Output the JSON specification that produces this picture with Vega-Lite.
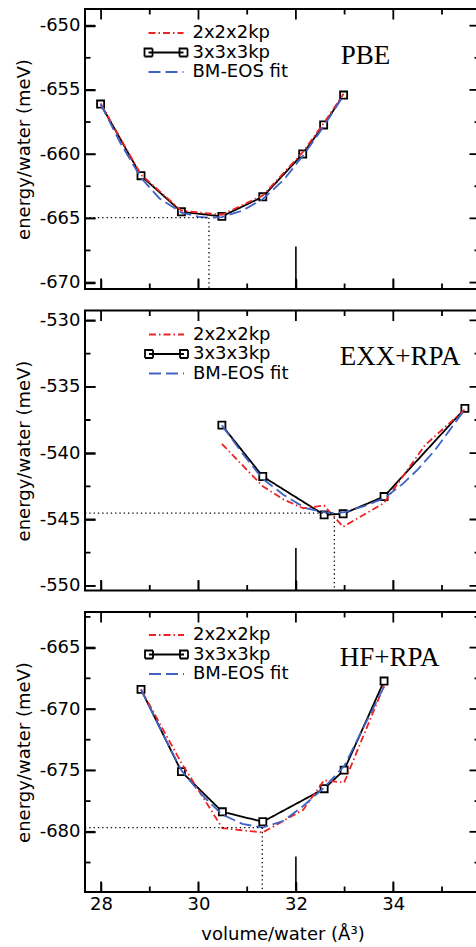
{
  "$schema": "https://vega.github.io/schema/vega-lite/v6.json",
  "padding": {"left": 14, "top": 8, "right": 0, "bottom": 0},
  "bounds": "flush",
  "spacing": 21.5,
  "config": {
    "font": "DejaVu Sans",
    "view": {"stroke": "black", "strokeWidth": 2},
    "axis": {"zindex": 2, "domain": false, "grid": false, "ticks": true, "tickColor": "black", "tickWidth": 1.5, "labelFont": "DejaVu Sans", "labelFontSize": 18, "labelColor": "black", "labelOverlap": false, "labelFlush": false, "titleFont": "DejaVu Sans", "titleFontSize": 18, "titleFontWeight": "normal", "titleColor": "black"},
    "legend": {"padding": 0, "labelFont": "DejaVu Sans", "labelFontSize": 18, "labelColor": "black", "labelOffset": 30, "symbolSize": 100, "symbolStrokeWidth": 1.8, "rowPadding": 1.5},
    "tick": {"thickness": 1.8, "opacity": 1, "color": "black"}
  },
  "datasets": {
    "pts": [
      {"panel": 1, "series": "3x3x3kp", "vol": 27.99, "energy": -656.1},
      {"panel": 1, "series": "3x3x3kp", "vol": 28.82, "energy": -661.68},
      {"panel": 1, "series": "3x3x3kp", "vol": 29.65, "energy": -664.49},
      {"panel": 1, "series": "3x3x3kp", "vol": 30.48, "energy": -664.85},
      {"panel": 1, "series": "3x3x3kp", "vol": 31.32, "energy": -663.32},
      {"panel": 1, "series": "3x3x3kp", "vol": 32.14, "energy": -659.99},
      {"panel": 1, "series": "3x3x3kp", "vol": 32.57, "energy": -657.73},
      {"panel": 1, "series": "3x3x3kp", "vol": 32.98, "energy": -655.4},
      {"panel": 1, "series": "2x2x2kp", "vol": 27.99, "energy": -656.05},
      {"panel": 1, "series": "2x2x2kp", "vol": 28.82, "energy": -661.6},
      {"panel": 1, "series": "2x2x2kp", "vol": 29.65, "energy": -664.4},
      {"panel": 1, "series": "2x2x2kp", "vol": 30.48, "energy": -664.72},
      {"panel": 1, "series": "2x2x2kp", "vol": 31.32, "energy": -663.22},
      {"panel": 1, "series": "2x2x2kp", "vol": 32.14, "energy": -659.85},
      {"panel": 1, "series": "2x2x2kp", "vol": 32.57, "energy": -657.6},
      {"panel": 1, "series": "2x2x2kp", "vol": 32.98, "energy": -655.3},
      {"panel": 1, "series": "BM-EOS fit", "vol": 27.99, "energy": -656.1},
      {"panel": 1, "series": "BM-EOS fit", "vol": 28.4, "energy": -659.15},
      {"panel": 1, "series": "BM-EOS fit", "vol": 28.82, "energy": -661.85},
      {"panel": 1, "series": "BM-EOS fit", "vol": 29.2, "energy": -663.45},
      {"panel": 1, "series": "BM-EOS fit", "vol": 29.65, "energy": -664.55},
      {"panel": 1, "series": "BM-EOS fit", "vol": 30.0, "energy": -664.88},
      {"panel": 1, "series": "BM-EOS fit", "vol": 30.22, "energy": -664.95},
      {"panel": 1, "series": "BM-EOS fit", "vol": 30.48, "energy": -664.9},
      {"panel": 1, "series": "BM-EOS fit", "vol": 30.9, "energy": -664.4},
      {"panel": 1, "series": "BM-EOS fit", "vol": 31.32, "energy": -663.5},
      {"panel": 1, "series": "BM-EOS fit", "vol": 31.75, "energy": -662.0},
      {"panel": 1, "series": "BM-EOS fit", "vol": 32.14, "energy": -660.15},
      {"panel": 1, "series": "BM-EOS fit", "vol": 32.57, "energy": -657.85},
      {"panel": 1, "series": "BM-EOS fit", "vol": 32.98, "energy": -655.4},
      {"panel": 2, "series": "3x3x3kp", "vol": 30.48, "energy": -537.89},
      {"panel": 2, "series": "3x3x3kp", "vol": 31.32, "energy": -541.76},
      {"panel": 2, "series": "3x3x3kp", "vol": 32.58, "energy": -544.65},
      {"panel": 2, "series": "3x3x3kp", "vol": 32.97, "energy": -544.57},
      {"panel": 2, "series": "3x3x3kp", "vol": 33.81, "energy": -543.27},
      {"panel": 2, "series": "3x3x3kp", "vol": 35.47, "energy": -536.63},
      {"panel": 2, "series": "2x2x2kp", "vol": 30.48, "energy": -539.3},
      {"panel": 2, "series": "2x2x2kp", "vol": 31.32, "energy": -542.5},
      {"panel": 2, "series": "2x2x2kp", "vol": 31.75, "energy": -543.5},
      {"panel": 2, "series": "2x2x2kp", "vol": 32.15, "energy": -544.15},
      {"panel": 2, "series": "2x2x2kp", "vol": 32.58, "energy": -543.95},
      {"panel": 2, "series": "2x2x2kp", "vol": 32.97, "energy": -545.55},
      {"panel": 2, "series": "2x2x2kp", "vol": 33.81, "energy": -543.75},
      {"panel": 2, "series": "2x2x2kp", "vol": 34.65, "energy": -539.4},
      {"panel": 2, "series": "2x2x2kp", "vol": 35.47, "energy": -536.7},
      {"panel": 2, "series": "BM-EOS fit", "vol": 30.48, "energy": -537.9},
      {"panel": 2, "series": "BM-EOS fit", "vol": 30.9, "energy": -540.0},
      {"panel": 2, "series": "BM-EOS fit", "vol": 31.32, "energy": -541.95},
      {"panel": 2, "series": "BM-EOS fit", "vol": 31.75, "energy": -543.15},
      {"panel": 2, "series": "BM-EOS fit", "vol": 32.2, "energy": -544.15},
      {"panel": 2, "series": "BM-EOS fit", "vol": 32.58, "energy": -544.45},
      {"panel": 2, "series": "BM-EOS fit", "vol": 32.79, "energy": -544.52},
      {"panel": 2, "series": "BM-EOS fit", "vol": 33.0, "energy": -544.45},
      {"panel": 2, "series": "BM-EOS fit", "vol": 33.4, "energy": -544.0},
      {"panel": 2, "series": "BM-EOS fit", "vol": 33.81, "energy": -543.4},
      {"panel": 2, "series": "BM-EOS fit", "vol": 34.2, "energy": -542.3},
      {"panel": 2, "series": "BM-EOS fit", "vol": 34.51, "energy": -541.2},
      {"panel": 2, "series": "BM-EOS fit", "vol": 34.85, "energy": -539.8},
      {"panel": 2, "series": "BM-EOS fit", "vol": 35.15, "energy": -538.3},
      {"panel": 2, "series": "BM-EOS fit", "vol": 35.47, "energy": -536.7},
      {"panel": 3, "series": "3x3x3kp", "vol": 28.82, "energy": -668.4},
      {"panel": 3, "series": "3x3x3kp", "vol": 29.65, "energy": -675.1},
      {"panel": 3, "series": "3x3x3kp", "vol": 30.49, "energy": -678.37},
      {"panel": 3, "series": "3x3x3kp", "vol": 31.32, "energy": -679.18},
      {"panel": 3, "series": "3x3x3kp", "vol": 32.58, "energy": -676.49},
      {"panel": 3, "series": "3x3x3kp", "vol": 32.99, "energy": -674.98},
      {"panel": 3, "series": "3x3x3kp", "vol": 33.81, "energy": -667.72},
      {"panel": 3, "series": "2x2x2kp", "vol": 28.82, "energy": -668.4},
      {"panel": 3, "series": "2x2x2kp", "vol": 29.65, "energy": -674.4},
      {"panel": 3, "series": "2x2x2kp", "vol": 30.49, "energy": -679.7},
      {"panel": 3, "series": "2x2x2kp", "vol": 31.32, "energy": -680.05},
      {"panel": 3, "series": "2x2x2kp", "vol": 32.15, "energy": -678.2},
      {"panel": 3, "series": "2x2x2kp", "vol": 32.58, "energy": -675.8},
      {"panel": 3, "series": "2x2x2kp", "vol": 32.99, "energy": -676.0},
      {"panel": 3, "series": "2x2x2kp", "vol": 33.81, "energy": -668.1},
      {"panel": 3, "series": "BM-EOS fit", "vol": 28.82, "energy": -668.4},
      {"panel": 3, "series": "BM-EOS fit", "vol": 29.2, "energy": -671.5},
      {"panel": 3, "series": "BM-EOS fit", "vol": 29.65, "energy": -675.0},
      {"panel": 3, "series": "BM-EOS fit", "vol": 30.07, "energy": -677.0},
      {"panel": 3, "series": "BM-EOS fit", "vol": 30.49, "energy": -678.6},
      {"panel": 3, "series": "BM-EOS fit", "vol": 30.9, "energy": -679.35},
      {"panel": 3, "series": "BM-EOS fit", "vol": 31.31, "energy": -679.65},
      {"panel": 3, "series": "BM-EOS fit", "vol": 31.75, "energy": -679.1},
      {"panel": 3, "series": "BM-EOS fit", "vol": 32.15, "energy": -677.9},
      {"panel": 3, "series": "BM-EOS fit", "vol": 32.58, "energy": -676.4},
      {"panel": 3, "series": "BM-EOS fit", "vol": 33.0, "energy": -674.6},
      {"panel": 3, "series": "BM-EOS fit", "vol": 33.4, "energy": -671.4},
      {"panel": 3, "series": "BM-EOS fit", "vol": 33.81, "energy": -668.2}
    ],
    "guides": [
      {"panel": 1, "kind": "dot", "x": 27.67, "x2": 30.215, "y": -664.95, "y2": -664.95},
      {"panel": 1, "kind": "dot", "x": 30.215, "x2": 30.215, "y": -664.95, "y2": -670.5},
      {"panel": 1, "kind": "stick", "x": 32.0, "x2": 32.0, "y": -670.5, "y2": -667.2},
      {"panel": 2, "kind": "dot", "x": 27.67, "x2": 32.79, "y": -544.52, "y2": -544.52},
      {"panel": 2, "kind": "dot", "x": 32.79, "x2": 32.79, "y": -544.52, "y2": -550.35},
      {"panel": 2, "kind": "stick", "x": 32.0, "x2": 32.0, "y": -550.35, "y2": -547.15},
      {"panel": 3, "kind": "dot", "x": 27.67, "x2": 31.31, "y": -679.65, "y2": -679.65},
      {"panel": 3, "kind": "dot", "x": 31.31, "x2": 31.31, "y": -679.65, "y2": -684.9},
      {"panel": 3, "kind": "stick", "x": 32.0, "x2": 32.0, "y": -684.9, "y2": -682.0}
    ],
    "labels": [
      {"panel": 1, "label": "PBE", "vol": 32.92, "energy": -652.98},
      {"panel": 2, "label": "EXX+RPA", "vol": 32.9, "energy": -533.34},
      {"panel": 3, "label": "HF+RPA", "vol": 32.9, "energy": -666.5}
    ],
    "yticks": [
      {"panel": 1, "pos": -670, "kind": "major"}, {"panel": 1, "pos": -667.5, "kind": "minor"},
      {"panel": 1, "pos": -665, "kind": "major"}, {"panel": 1, "pos": -662.5, "kind": "minor"},
      {"panel": 1, "pos": -660, "kind": "major"}, {"panel": 1, "pos": -657.5, "kind": "minor"},
      {"panel": 1, "pos": -655, "kind": "major"}, {"panel": 1, "pos": -652.5, "kind": "minor"},
      {"panel": 1, "pos": -650, "kind": "major"},
      {"panel": 2, "pos": -550, "kind": "major"}, {"panel": 2, "pos": -547.5, "kind": "minor"},
      {"panel": 2, "pos": -545, "kind": "major"}, {"panel": 2, "pos": -542.5, "kind": "minor"},
      {"panel": 2, "pos": -540, "kind": "major"}, {"panel": 2, "pos": -537.5, "kind": "minor"},
      {"panel": 2, "pos": -535, "kind": "major"}, {"panel": 2, "pos": -532.5, "kind": "minor"},
      {"panel": 2, "pos": -530, "kind": "major"},
      {"panel": 3, "pos": -682.5, "kind": "minor"}, {"panel": 3, "pos": -680, "kind": "major"},
      {"panel": 3, "pos": -677.5, "kind": "minor"}, {"panel": 3, "pos": -675, "kind": "major"},
      {"panel": 3, "pos": -672.5, "kind": "minor"}, {"panel": 3, "pos": -670, "kind": "major"},
      {"panel": 3, "pos": -667.5, "kind": "minor"}, {"panel": 3, "pos": -665, "kind": "major"},
      {"panel": 3, "pos": -662.5, "kind": "minor"}
    ],
    "xticks": [
      {"pos": 28, "kind": "major"}, {"pos": 29, "kind": "minor"}, {"pos": 30, "kind": "major"}, {"pos": 31, "kind": "minor"},
      {"pos": 32, "kind": "major"}, {"pos": 33, "kind": "minor"}, {"pos": 34, "kind": "major"}, {"pos": 35, "kind": "minor"}
    ]
  },
  "resolve": {
    "scale": {"x": "independent", "y": "independent", "color": "independent", "strokeDash": "independent"},
    "legend": {"color": "independent", "strokeDash": "independent"}
  },
  "vconcat": [
    {
      "width": 395, "height": 280,
      "resolve": {"axis": {"x": "independent", "y": "independent"}},
      "layer": [
        {
          "data": {"name": "pts"},
          "transform": [{"filter": "datum.panel === 1 && datum.series === '3x3x3kp'"}],
          "mark": {"type": "line", "strokeWidth": 1.8},
          "encoding": {
            "x": {"field": "vol", "type": "quantitative", "scale": {"domain": [27.67, 35.78], "nice": false, "zero": false},
                  "axis": {"orient": "bottom", "values": [28, 30, 32, 34], "tickSize": 10, "offset": -10, "labels": false, "title": null}},
            "y": {"field": "energy", "type": "quantitative", "scale": {"domain": [-670.5, -648.7], "nice": false, "zero": false},
                  "axis": {"orient": "left", "values": [-670, -665, -660, -655, -650], "tickSize": 10, "offset": -10, "labelPadding": 5, "labelExpr": "'-' + abs(datum.value)", "title": "energy/water (meV)", "titlePadding": 6}},
            "color": {"field": "series", "type": "nominal", "scale": {"domain": ["2x2x2kp", "3x3x3kp", "BM-EOS fit"], "range": ["#ee2222", "#000000", "#4062c4"]},
                      "legend": {"orient": "none", "legendX": 59.5, "legendY": 15, "title": null,
                                 "encode": {"symbols": {"update": {"shape": {"signal": "datum.value === '3x3x3kp' ? 'M-1,0L6,0M-1.8,-0.8L-0.2,-0.8L-0.2,0.8L-1.8,0.8ZM5.2,-0.8L6.8,-0.8L6.8,0.8L5.2,0.8Z' : 'M-1,0L6,0'"}, "fill": {"value": "transparent"}}}}}},
            "strokeDash": {"field": "series", "type": "nominal", "scale": {"domain": ["2x2x2kp", "3x3x3kp", "BM-EOS fit"], "range": [[7, 3, 1.5, 3], [1, 0], [12, 5]]}}
          }
        },
        {
          "data": {"name": "pts"},
          "transform": [{"filter": "datum.panel === 1 && datum.series === '3x3x3kp'"}],
          "mark": {"type": "point", "shape": "square", "filled": true, "fill": "white", "stroke": "black", "strokeWidth": 1.8, "size": 50, "opacity": 1},
          "encoding": {
            "x": {"field": "vol", "type": "quantitative", "scale": {"domain": [27.67, 35.78], "nice": false, "zero": false}, "axis": null},
            "y": {"field": "energy", "type": "quantitative", "scale": {"domain": [-670.5, -648.7], "nice": false, "zero": false}, "axis": null}
          }
        },
        {
          "data": {"name": "pts"},
          "transform": [{"filter": "datum.panel === 1 && datum.series === '2x2x2kp'"}],
          "mark": {"type": "line", "strokeWidth": 1.8},
          "encoding": {
            "x": {"field": "vol", "type": "quantitative", "scale": {"domain": [27.67, 35.78], "nice": false, "zero": false}, "axis": null},
            "y": {"field": "energy", "type": "quantitative", "scale": {"domain": [-670.5, -648.7], "nice": false, "zero": false}, "axis": null},
            "color": {"field": "series", "type": "nominal", "scale": {"domain": ["2x2x2kp", "3x3x3kp", "BM-EOS fit"], "range": ["#ee2222", "#000000", "#4062c4"]}},
            "strokeDash": {"field": "series", "type": "nominal", "scale": {"domain": ["2x2x2kp", "3x3x3kp", "BM-EOS fit"], "range": [[7, 3, 1.5, 3], [1, 0], [12, 5]]}}
          }
        },
        {
          "data": {"name": "pts"},
          "transform": [{"filter": "datum.panel === 1 && datum.series === 'BM-EOS fit'"}],
          "mark": {"type": "line", "strokeWidth": 1.8},
          "encoding": {
            "x": {"field": "vol", "type": "quantitative", "scale": {"domain": [27.67, 35.78], "nice": false, "zero": false}, "axis": null},
            "y": {"field": "energy", "type": "quantitative", "scale": {"domain": [-670.5, -648.7], "nice": false, "zero": false}, "axis": null},
            "color": {"field": "series", "type": "nominal", "scale": {"domain": ["2x2x2kp", "3x3x3kp", "BM-EOS fit"], "range": ["#ee2222", "#000000", "#4062c4"]}},
            "strokeDash": {"field": "series", "type": "nominal", "scale": {"domain": ["2x2x2kp", "3x3x3kp", "BM-EOS fit"], "range": [[7, 3, 1.5, 3], [1, 0], [12, 5]]}}
          }
        },
        {
          "data": {"name": "guides"},
          "transform": [{"filter": "datum.panel === 1 && datum.kind === 'dot'"}],
          "mark": {"type": "rule", "color": "black", "strokeWidth": 1.3, "strokeDash": [1.3, 3]},
          "encoding": {
            "x": {"field": "x", "type": "quantitative", "scale": {"domain": [27.67, 35.78], "nice": false, "zero": false}, "axis": null},
            "x2": {"field": "x2"},
            "y": {"field": "y", "type": "quantitative", "scale": {"domain": [-670.5, -648.7], "nice": false, "zero": false}, "axis": null},
            "y2": {"field": "y2"}
          }
        },
        {
          "data": {"name": "guides"},
          "transform": [{"filter": "datum.panel === 1 && datum.kind === 'stick'"}],
          "mark": {"type": "rule", "color": "black", "strokeWidth": 1.6},
          "encoding": {
            "x": {"field": "x", "type": "quantitative", "scale": {"domain": [27.67, 35.78], "nice": false, "zero": false}, "axis": null},
            "x2": {"field": "x2"},
            "y": {"field": "y", "type": "quantitative", "scale": {"domain": [-670.5, -648.7], "nice": false, "zero": false}, "axis": null},
            "y2": {"field": "y2"}
          }
        },
        {
          "data": {"name": "labels"},
          "transform": [{"filter": "datum.panel === 1"}],
          "mark": {"type": "text", "font": "Liberation Serif", "fontSize": 27, "align": "left", "baseline": "alphabetic", "color": "black"},
          "encoding": {
            "x": {"field": "vol", "type": "quantitative", "scale": {"domain": [27.67, 35.78], "nice": false, "zero": false}, "axis": null},
            "y": {"field": "energy", "type": "quantitative", "scale": {"domain": [-670.5, -648.7], "nice": false, "zero": false}, "axis": null},
            "text": {"field": "label"}
          }
        },
        {
          "data": {"name": "yticks"},
          "transform": [{"filter": "datum.panel === 1"}],
          "mark": {"type": "tick", "orient": "horizontal", "clip": true},
          "encoding": {
            "x": {"datum": 27.67, "type": "quantitative", "scale": {"domain": [27.67, 35.78], "nice": false, "zero": false}, "axis": null},
            "y": {"field": "pos", "type": "quantitative", "scale": {"domain": [-670.5, -648.7], "nice": false, "zero": false}, "axis": null},
            "size": {"field": "kind", "type": "ordinal", "scale": {"domain": ["major", "minor"], "range": [21, 11]}, "legend": null}
          }
        },
        {
          "data": {"name": "yticks"},
          "transform": [{"filter": "datum.panel === 1"}],
          "mark": {"type": "tick", "orient": "horizontal", "clip": true},
          "encoding": {
            "x": {"datum": 35.78, "type": "quantitative", "scale": {"domain": [27.67, 35.78], "nice": false, "zero": false}, "axis": null},
            "y": {"field": "pos", "type": "quantitative", "scale": {"domain": [-670.5, -648.7], "nice": false, "zero": false}, "axis": null},
            "size": {"field": "kind", "type": "ordinal", "scale": {"domain": ["major", "minor"], "range": [21, 11]}, "legend": null}
          }
        },
        {
          "data": {"name": "xticks"},
          "mark": {"type": "tick", "orient": "vertical", "clip": true},
          "encoding": {
            "x": {"field": "pos", "type": "quantitative", "scale": {"domain": [27.67, 35.78], "nice": false, "zero": false}, "axis": null},
            "y": {"datum": -670.5, "type": "quantitative", "scale": {"domain": [-670.5, -648.7], "nice": false, "zero": false}, "axis": null},
            "size": {"field": "kind", "type": "ordinal", "scale": {"domain": ["major", "minor"], "range": [21, 11]}, "legend": null}
          }
        },
        {
          "data": {"name": "xticks"},
          "mark": {"type": "tick", "orient": "vertical", "clip": true},
          "encoding": {
            "x": {"field": "pos", "type": "quantitative", "scale": {"domain": [27.67, 35.78], "nice": false, "zero": false}, "axis": null},
            "y": {"datum": -648.7, "type": "quantitative", "scale": {"domain": [-670.5, -648.7], "nice": false, "zero": false}, "axis": null},
            "size": {"field": "kind", "type": "ordinal", "scale": {"domain": ["major", "minor"], "range": [21, 11]}, "legend": null}
          }
        }
      ]
    },
    {
      "width": 395, "height": 280,
      "resolve": {"axis": {"x": "independent", "y": "independent"}},
      "layer": [
        {
          "data": {"name": "pts"},
          "transform": [{"filter": "datum.panel === 2 && datum.series === '3x3x3kp'"}],
          "mark": {"type": "line", "strokeWidth": 1.8},
          "encoding": {
            "x": {"field": "vol", "type": "quantitative", "scale": {"domain": [27.67, 35.78], "nice": false, "zero": false},
                  "axis": {"orient": "bottom", "values": [28, 30, 32, 34], "tickSize": 10, "offset": -10, "labels": false, "title": null}},
            "y": {"field": "energy", "type": "quantitative", "scale": {"domain": [-550.35, -529.25], "nice": false, "zero": false},
                  "axis": {"orient": "left", "values": [-550, -545, -540, -535, -530], "tickSize": 10, "offset": -10, "labelPadding": 5, "labelExpr": "'-' + abs(datum.value)", "title": "energy/water (meV)", "titlePadding": 6}},
            "color": {"field": "series", "type": "nominal", "scale": {"domain": ["2x2x2kp", "3x3x3kp", "BM-EOS fit"], "range": ["#ee2222", "#000000", "#4062c4"]},
                      "legend": {"orient": "none", "legendX": 60, "legendY": 15, "title": null,
                                 "encode": {"symbols": {"update": {"shape": {"signal": "datum.value === '3x3x3kp' ? 'M-1,0L6,0M-1.8,-0.8L-0.2,-0.8L-0.2,0.8L-1.8,0.8ZM5.2,-0.8L6.8,-0.8L6.8,0.8L5.2,0.8Z' : 'M-1,0L6,0'"}, "fill": {"value": "transparent"}}}}}},
            "strokeDash": {"field": "series", "type": "nominal", "scale": {"domain": ["2x2x2kp", "3x3x3kp", "BM-EOS fit"], "range": [[7, 3, 1.5, 3], [1, 0], [12, 5]]}}
          }
        },
        {
          "data": {"name": "pts"},
          "transform": [{"filter": "datum.panel === 2 && datum.series === '3x3x3kp'"}],
          "mark": {"type": "point", "shape": "square", "filled": true, "fill": "white", "stroke": "black", "strokeWidth": 1.8, "size": 50, "opacity": 1},
          "encoding": {
            "x": {"field": "vol", "type": "quantitative", "scale": {"domain": [27.67, 35.78], "nice": false, "zero": false}, "axis": null},
            "y": {"field": "energy", "type": "quantitative", "scale": {"domain": [-550.35, -529.25], "nice": false, "zero": false}, "axis": null}
          }
        },
        {
          "data": {"name": "pts"},
          "transform": [{"filter": "datum.panel === 2 && datum.series === '2x2x2kp'"}],
          "mark": {"type": "line", "strokeWidth": 1.8},
          "encoding": {
            "x": {"field": "vol", "type": "quantitative", "scale": {"domain": [27.67, 35.78], "nice": false, "zero": false}, "axis": null},
            "y": {"field": "energy", "type": "quantitative", "scale": {"domain": [-550.35, -529.25], "nice": false, "zero": false}, "axis": null},
            "color": {"field": "series", "type": "nominal", "scale": {"domain": ["2x2x2kp", "3x3x3kp", "BM-EOS fit"], "range": ["#ee2222", "#000000", "#4062c4"]}},
            "strokeDash": {"field": "series", "type": "nominal", "scale": {"domain": ["2x2x2kp", "3x3x3kp", "BM-EOS fit"], "range": [[7, 3, 1.5, 3], [1, 0], [12, 5]]}}
          }
        },
        {
          "data": {"name": "pts"},
          "transform": [{"filter": "datum.panel === 2 && datum.series === 'BM-EOS fit'"}],
          "mark": {"type": "line", "strokeWidth": 1.8},
          "encoding": {
            "x": {"field": "vol", "type": "quantitative", "scale": {"domain": [27.67, 35.78], "nice": false, "zero": false}, "axis": null},
            "y": {"field": "energy", "type": "quantitative", "scale": {"domain": [-550.35, -529.25], "nice": false, "zero": false}, "axis": null},
            "color": {"field": "series", "type": "nominal", "scale": {"domain": ["2x2x2kp", "3x3x3kp", "BM-EOS fit"], "range": ["#ee2222", "#000000", "#4062c4"]}},
            "strokeDash": {"field": "series", "type": "nominal", "scale": {"domain": ["2x2x2kp", "3x3x3kp", "BM-EOS fit"], "range": [[7, 3, 1.5, 3], [1, 0], [12, 5]]}}
          }
        },
        {
          "data": {"name": "guides"},
          "transform": [{"filter": "datum.panel === 2 && datum.kind === 'dot'"}],
          "mark": {"type": "rule", "color": "black", "strokeWidth": 1.3, "strokeDash": [1.3, 3]},
          "encoding": {
            "x": {"field": "x", "type": "quantitative", "scale": {"domain": [27.67, 35.78], "nice": false, "zero": false}, "axis": null},
            "x2": {"field": "x2"},
            "y": {"field": "y", "type": "quantitative", "scale": {"domain": [-550.35, -529.25], "nice": false, "zero": false}, "axis": null},
            "y2": {"field": "y2"}
          }
        },
        {
          "data": {"name": "guides"},
          "transform": [{"filter": "datum.panel === 2 && datum.kind === 'stick'"}],
          "mark": {"type": "rule", "color": "black", "strokeWidth": 1.6},
          "encoding": {
            "x": {"field": "x", "type": "quantitative", "scale": {"domain": [27.67, 35.78], "nice": false, "zero": false}, "axis": null},
            "x2": {"field": "x2"},
            "y": {"field": "y", "type": "quantitative", "scale": {"domain": [-550.35, -529.25], "nice": false, "zero": false}, "axis": null},
            "y2": {"field": "y2"}
          }
        },
        {
          "data": {"name": "labels"},
          "transform": [{"filter": "datum.panel === 2"}],
          "mark": {"type": "text", "font": "Liberation Serif", "fontSize": 27, "align": "left", "baseline": "alphabetic", "color": "black"},
          "encoding": {
            "x": {"field": "vol", "type": "quantitative", "scale": {"domain": [27.67, 35.78], "nice": false, "zero": false}, "axis": null},
            "y": {"field": "energy", "type": "quantitative", "scale": {"domain": [-550.35, -529.25], "nice": false, "zero": false}, "axis": null},
            "text": {"field": "label"}
          }
        },
        {
          "data": {"name": "yticks"},
          "transform": [{"filter": "datum.panel === 2"}],
          "mark": {"type": "tick", "orient": "horizontal", "clip": true},
          "encoding": {
            "x": {"datum": 27.67, "type": "quantitative", "scale": {"domain": [27.67, 35.78], "nice": false, "zero": false}, "axis": null},
            "y": {"field": "pos", "type": "quantitative", "scale": {"domain": [-550.35, -529.25], "nice": false, "zero": false}, "axis": null},
            "size": {"field": "kind", "type": "ordinal", "scale": {"domain": ["major", "minor"], "range": [21, 11]}, "legend": null}
          }
        },
        {
          "data": {"name": "yticks"},
          "transform": [{"filter": "datum.panel === 2"}],
          "mark": {"type": "tick", "orient": "horizontal", "clip": true},
          "encoding": {
            "x": {"datum": 35.78, "type": "quantitative", "scale": {"domain": [27.67, 35.78], "nice": false, "zero": false}, "axis": null},
            "y": {"field": "pos", "type": "quantitative", "scale": {"domain": [-550.35, -529.25], "nice": false, "zero": false}, "axis": null},
            "size": {"field": "kind", "type": "ordinal", "scale": {"domain": ["major", "minor"], "range": [21, 11]}, "legend": null}
          }
        },
        {
          "data": {"name": "xticks"},
          "mark": {"type": "tick", "orient": "vertical", "clip": true},
          "encoding": {
            "x": {"field": "pos", "type": "quantitative", "scale": {"domain": [27.67, 35.78], "nice": false, "zero": false}, "axis": null},
            "y": {"datum": -550.35, "type": "quantitative", "scale": {"domain": [-550.35, -529.25], "nice": false, "zero": false}, "axis": null},
            "size": {"field": "kind", "type": "ordinal", "scale": {"domain": ["major", "minor"], "range": [21, 11]}, "legend": null}
          }
        },
        {
          "data": {"name": "xticks"},
          "mark": {"type": "tick", "orient": "vertical", "clip": true},
          "encoding": {
            "x": {"field": "pos", "type": "quantitative", "scale": {"domain": [27.67, 35.78], "nice": false, "zero": false}, "axis": null},
            "y": {"datum": -529.25, "type": "quantitative", "scale": {"domain": [-550.35, -529.25], "nice": false, "zero": false}, "axis": null},
            "size": {"field": "kind", "type": "ordinal", "scale": {"domain": ["major", "minor"], "range": [21, 11]}, "legend": null}
          }
        }
      ]
    },
    {
      "width": 395, "height": 280,
      "resolve": {"axis": {"x": "independent", "y": "independent"}},
      "layer": [
        {
          "data": {"name": "pts"},
          "transform": [{"filter": "datum.panel === 3 && datum.series === '3x3x3kp'"}],
          "mark": {"type": "line", "strokeWidth": 1.8},
          "encoding": {
            "x": {"field": "vol", "type": "quantitative", "scale": {"domain": [27.67, 35.78], "nice": false, "zero": false},
                  "axis": {"orient": "bottom", "values": [28, 30, 32, 34], "tickSize": 10, "offset": -10, "labelPadding": 3, "title": "volume/water (Å³)", "titlePadding": 12}},
            "y": {"field": "energy", "type": "quantitative", "scale": {"domain": [-684.9, -662.1], "nice": false, "zero": false},
                  "axis": {"orient": "left", "values": [-680, -675, -670, -665], "tickSize": 10, "offset": -10, "labelPadding": 5, "labelExpr": "'-' + abs(datum.value)", "title": "energy/water (meV)", "titlePadding": 6}},
            "color": {"field": "series", "type": "nominal", "scale": {"domain": ["2x2x2kp", "3x3x3kp", "BM-EOS fit"], "range": ["#ee2222", "#000000", "#4062c4"]},
                      "legend": {"orient": "none", "legendX": 60, "legendY": 14, "title": null,
                                 "encode": {"symbols": {"update": {"shape": {"signal": "datum.value === '3x3x3kp' ? 'M-1,0L6,0M-1.8,-0.8L-0.2,-0.8L-0.2,0.8L-1.8,0.8ZM5.2,-0.8L6.8,-0.8L6.8,0.8L5.2,0.8Z' : 'M-1,0L6,0'"}, "fill": {"value": "transparent"}}}}}},
            "strokeDash": {"field": "series", "type": "nominal", "scale": {"domain": ["2x2x2kp", "3x3x3kp", "BM-EOS fit"], "range": [[7, 3, 1.5, 3], [1, 0], [12, 5]]}}
          }
        },
        {
          "data": {"name": "pts"},
          "transform": [{"filter": "datum.panel === 3 && datum.series === '3x3x3kp'"}],
          "mark": {"type": "point", "shape": "square", "filled": true, "fill": "white", "stroke": "black", "strokeWidth": 1.8, "size": 50, "opacity": 1},
          "encoding": {
            "x": {"field": "vol", "type": "quantitative", "scale": {"domain": [27.67, 35.78], "nice": false, "zero": false}, "axis": null},
            "y": {"field": "energy", "type": "quantitative", "scale": {"domain": [-684.9, -662.1], "nice": false, "zero": false}, "axis": null}
          }
        },
        {
          "data": {"name": "pts"},
          "transform": [{"filter": "datum.panel === 3 && datum.series === '2x2x2kp'"}],
          "mark": {"type": "line", "strokeWidth": 1.8},
          "encoding": {
            "x": {"field": "vol", "type": "quantitative", "scale": {"domain": [27.67, 35.78], "nice": false, "zero": false}, "axis": null},
            "y": {"field": "energy", "type": "quantitative", "scale": {"domain": [-684.9, -662.1], "nice": false, "zero": false}, "axis": null},
            "color": {"field": "series", "type": "nominal", "scale": {"domain": ["2x2x2kp", "3x3x3kp", "BM-EOS fit"], "range": ["#ee2222", "#000000", "#4062c4"]}},
            "strokeDash": {"field": "series", "type": "nominal", "scale": {"domain": ["2x2x2kp", "3x3x3kp", "BM-EOS fit"], "range": [[7, 3, 1.5, 3], [1, 0], [12, 5]]}}
          }
        },
        {
          "data": {"name": "pts"},
          "transform": [{"filter": "datum.panel === 3 && datum.series === 'BM-EOS fit'"}],
          "mark": {"type": "line", "strokeWidth": 1.8},
          "encoding": {
            "x": {"field": "vol", "type": "quantitative", "scale": {"domain": [27.67, 35.78], "nice": false, "zero": false}, "axis": null},
            "y": {"field": "energy", "type": "quantitative", "scale": {"domain": [-684.9, -662.1], "nice": false, "zero": false}, "axis": null},
            "color": {"field": "series", "type": "nominal", "scale": {"domain": ["2x2x2kp", "3x3x3kp", "BM-EOS fit"], "range": ["#ee2222", "#000000", "#4062c4"]}},
            "strokeDash": {"field": "series", "type": "nominal", "scale": {"domain": ["2x2x2kp", "3x3x3kp", "BM-EOS fit"], "range": [[7, 3, 1.5, 3], [1, 0], [12, 5]]}}
          }
        },
        {
          "data": {"name": "guides"},
          "transform": [{"filter": "datum.panel === 3 && datum.kind === 'dot'"}],
          "mark": {"type": "rule", "color": "black", "strokeWidth": 1.3, "strokeDash": [1.3, 3]},
          "encoding": {
            "x": {"field": "x", "type": "quantitative", "scale": {"domain": [27.67, 35.78], "nice": false, "zero": false}, "axis": null},
            "x2": {"field": "x2"},
            "y": {"field": "y", "type": "quantitative", "scale": {"domain": [-684.9, -662.1], "nice": false, "zero": false}, "axis": null},
            "y2": {"field": "y2"}
          }
        },
        {
          "data": {"name": "guides"},
          "transform": [{"filter": "datum.panel === 3 && datum.kind === 'stick'"}],
          "mark": {"type": "rule", "color": "black", "strokeWidth": 1.6},
          "encoding": {
            "x": {"field": "x", "type": "quantitative", "scale": {"domain": [27.67, 35.78], "nice": false, "zero": false}, "axis": null},
            "x2": {"field": "x2"},
            "y": {"field": "y", "type": "quantitative", "scale": {"domain": [-684.9, -662.1], "nice": false, "zero": false}, "axis": null},
            "y2": {"field": "y2"}
          }
        },
        {
          "data": {"name": "labels"},
          "transform": [{"filter": "datum.panel === 3"}],
          "mark": {"type": "text", "font": "Liberation Serif", "fontSize": 27, "align": "left", "baseline": "alphabetic", "color": "black"},
          "encoding": {
            "x": {"field": "vol", "type": "quantitative", "scale": {"domain": [27.67, 35.78], "nice": false, "zero": false}, "axis": null},
            "y": {"field": "energy", "type": "quantitative", "scale": {"domain": [-684.9, -662.1], "nice": false, "zero": false}, "axis": null},
            "text": {"field": "label"}
          }
        },
        {
          "data": {"name": "yticks"},
          "transform": [{"filter": "datum.panel === 3"}],
          "mark": {"type": "tick", "orient": "horizontal", "clip": true},
          "encoding": {
            "x": {"datum": 27.67, "type": "quantitative", "scale": {"domain": [27.67, 35.78], "nice": false, "zero": false}, "axis": null},
            "y": {"field": "pos", "type": "quantitative", "scale": {"domain": [-684.9, -662.1], "nice": false, "zero": false}, "axis": null},
            "size": {"field": "kind", "type": "ordinal", "scale": {"domain": ["major", "minor"], "range": [21, 11]}, "legend": null}
          }
        },
        {
          "data": {"name": "yticks"},
          "transform": [{"filter": "datum.panel === 3"}],
          "mark": {"type": "tick", "orient": "horizontal", "clip": true},
          "encoding": {
            "x": {"datum": 35.78, "type": "quantitative", "scale": {"domain": [27.67, 35.78], "nice": false, "zero": false}, "axis": null},
            "y": {"field": "pos", "type": "quantitative", "scale": {"domain": [-684.9, -662.1], "nice": false, "zero": false}, "axis": null},
            "size": {"field": "kind", "type": "ordinal", "scale": {"domain": ["major", "minor"], "range": [21, 11]}, "legend": null}
          }
        },
        {
          "data": {"name": "xticks"},
          "mark": {"type": "tick", "orient": "vertical", "clip": true},
          "encoding": {
            "x": {"field": "pos", "type": "quantitative", "scale": {"domain": [27.67, 35.78], "nice": false, "zero": false}, "axis": null},
            "y": {"datum": -684.9, "type": "quantitative", "scale": {"domain": [-684.9, -662.1], "nice": false, "zero": false}, "axis": null},
            "size": {"field": "kind", "type": "ordinal", "scale": {"domain": ["major", "minor"], "range": [21, 11]}, "legend": null}
          }
        },
        {
          "data": {"name": "xticks"},
          "mark": {"type": "tick", "orient": "vertical", "clip": true},
          "encoding": {
            "x": {"field": "pos", "type": "quantitative", "scale": {"domain": [27.67, 35.78], "nice": false, "zero": false}, "axis": null},
            "y": {"datum": -662.1, "type": "quantitative", "scale": {"domain": [-684.9, -662.1], "nice": false, "zero": false}, "axis": null},
            "size": {"field": "kind", "type": "ordinal", "scale": {"domain": ["major", "minor"], "range": [21, 11]}, "legend": null}
          }
        }
      ]
    }
  ]
}
